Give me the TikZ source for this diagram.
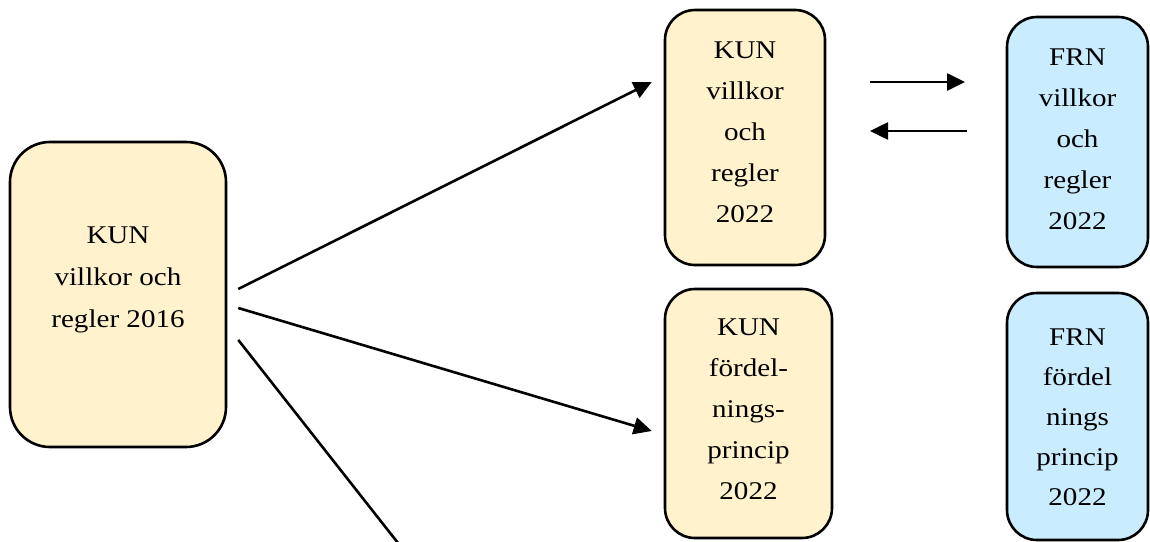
\documentclass[tikz,border=0pt]{standalone}
\usepackage{fontspec}
\setmainfont{Liberation Serif}[FakeStretch=1.14]
\usetikzlibrary{arrows.meta}
\definecolor{kunfill}{HTML}{FFF2CC}
\definecolor{frnfill}{HTML}{C9ECFF}
\begin{document}
\begin{tikzpicture}[x=1pt,y=-1pt,
  box/.style={draw=black, line width=2.6pt, rounded corners=30pt, inner sep=0pt},
  kun/.style={box, fill=kunfill},
  frn/.style={box, fill=frnfill},
  lbl/.style={anchor=north, inner sep=0pt, align=center, font=\fontsize{25.5}{41}\selectfont},
  conn/.style={line width=2.6pt},
  arr/.style={conn, -{Triangle[length=18pt,width=17pt]}}]
\useasboundingbox (0,0) rectangle (1150,541);
% boxes
\node[kun, rounded corners=40pt, minimum width=216pt, minimum height=305pt] (L) at (118,294.5) {};
\node[kun, minimum width=160pt, minimum height=255pt] (K1) at (745,137.5) {};
\node[kun, minimum width=167pt, minimum height=249pt] (K2) at (748.5,413.5) {};
\node[frn, minimum width=141pt, minimum height=250pt] (F1) at (1077.5,142) {};
\node[frn, minimum width=141pt, minimum height=247pt] (F2) at (1077.5,416.5) {};
% labels
\node[lbl, font=\fontsize{25.5}{42}\selectfont] (Lt) at (118,227) {KUN\\villkor och\\regler 2016};
\node[lbl] (K1t) at (745,42) {KUN\\villkor\\och\\regler\\2022};
\node[lbl] (K2t) at (748.5,319) {KUN\\fördel-\\nings-\\princip\\2022};
\node[lbl] (F1t) at (1077.5,49) {FRN\\villkor\\och\\regler\\2022};
\node[lbl, font=\fontsize{25.5}{40}\selectfont] (F2t) at (1077.5,329) {FRN\\fördel\\nings\\princip\\2022};
% connectors
\coordinate (low) at (398,543);
\draw[arr] ([shift={(11pt,5.5pt)}]L.east) -- ([shift={(-12pt,55.5pt)}]K1.west);
\draw[arr] ([shift={(11pt,-13.5pt)}]L.east) -- ([shift={(-12pt,-17.5pt)}]K2.west);
\draw[conn] ([shift={(11pt,-45.5pt)}]L.east) -- (low);
\coordinate (a1s) at (870,82);
\coordinate (a1e) at (965,82);
\coordinate (a2s) at (967,131);
\coordinate (a2e) at (870,131);
\draw[arr] (a1s) -- (a1e);
\draw[arr] (a2s) -- (a2e);
\end{tikzpicture}
\end{document}
